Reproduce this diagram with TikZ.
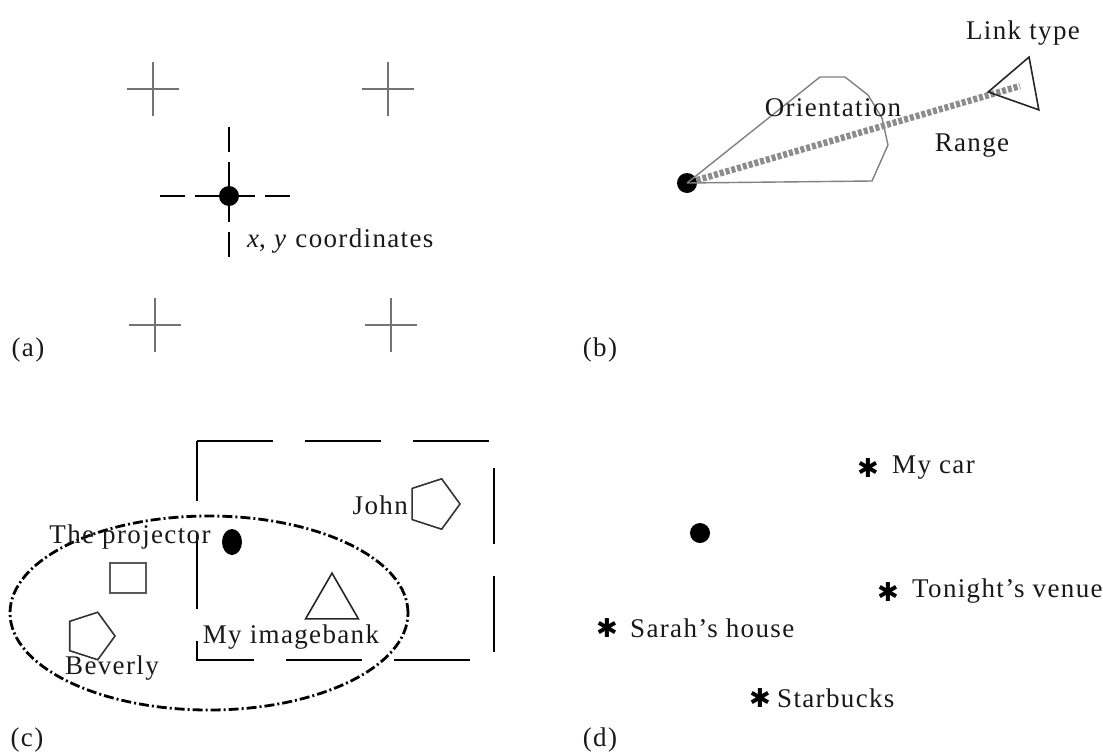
\documentclass[tikz,border=0pt]{standalone}
\usepackage{fontspec}
\setmainfont{Liberation Serif}[LetterSpace=5]
\newfontfamily\symfont{DejaVu Sans}
\usetikzlibrary{shapes.geometric}
\begin{document}
\begin{tikzpicture}[x=1pt,y=-1pt,
  lbl/.style={font=\fontsize{27}{32}\selectfont, inner sep=0pt, text=black!90},
  crossline/.style={draw=black!55, line width=1.8pt},
  dashcross/.style={draw=black, line width=2.2pt, dash pattern=on 25pt off 10pt},
  bigdot/.style={circle, fill=black, inner sep=0pt, minimum size=20pt},
  pent/.style={regular polygon, regular polygon sides=5, draw=black!80, line width=1.6pt, inner sep=0pt, rotate=-90},
  tri/.style={regular polygon, regular polygon sides=3, draw=black!85, line width=1.6pt, inner sep=0pt},
  star/.style={font=\symfont\fontsize{26}{28}\selectfont, inner sep=0pt},
]
\useasboundingbox (0,0) rectangle (1103,755);

% ---------- (a)
\foreach \cx/\cy in {153/89, 388/89, 155/325, 391/325}{
  \draw[crossline] (\cx-26,\cy) -- (\cx+26,\cy) (\cx,\cy-27) -- (\cx,\cy+27);
}
\coordinate (ah1) at (160,196); \coordinate (ah2) at (293,196);
\coordinate (av1) at (229,127); \coordinate (av2) at (229,259);
\draw[dashcross] (ah1) -- (ah2);
\draw[dashcross] (av1) -- (av2);
\node[bigdot] (adot) at (229,196) {};
\node[lbl, anchor=west] (axy) at (247,241) {\textit{x}, \textit{y} coordinates};
\node[lbl] (alab) at (28,350) {(a)};

% ---------- (b)
\node[bigdot] (bdot) at (687,183) {};
\draw[draw=black!50, line width=1.4pt] (bdot.center) -- (820,77) -- (845,77) -- (868,95) -- (882,118) -- (888,145) -- (872,181) -- (bdot.center);
\coordinate (bend) at (1020,86);
\draw[draw=black!45, line width=6.5pt, dash pattern=on 4pt off 2pt] (bdot) -- (bend);
\node[tri, minimum size=62pt, rotate=100.5] (blink) at (1018.7,86.3) {};
\node[lbl] (borient) at (833,108) {Orientation};
\node[lbl] (brange) at (972,146) {Range};
\node[lbl] (blinkt) at (1023,33) {Link type};
\node[lbl] (blab) at (600,350) {(b)};

% ---------- (c)
\draw[line width=2pt, dash pattern=on 76pt off 32pt] (197,441) -- (494,441) -- (494,660) -- (197,660) -- cycle;
\node[ellipse, draw, line width=2.8pt, dash pattern=on 10pt off 3pt on 2pt off 3pt, minimum width=398pt, minimum height=194pt, inner sep=0pt] (cgroup) at (209,613) {};
\node[ellipse, fill=black, inner sep=0pt, minimum width=20pt, minimum height=26pt] (cdot) at (232,542) {};
\node[lbl] (cproj) at (130,537) {The projector};
\node[rectangle, draw=black!65, line width=1.8pt, minimum width=36pt, minimum height=30pt, inner sep=0pt] (csq) at (128,578) {};
\node[pent, minimum size=50pt] (cbev) at (90,636) {};
\node[lbl] (cbevt) at (112,668) {Beverly};
\node[pent, minimum size=53pt] (cjohn) at (433.5,504) {};
\node[lbl, anchor=east] (cjohnt) at (408,505) {John};
\node[tri, minimum size=61pt] (cimg) at (332,603.6) {};
\node[lbl] (cimgt) at (291,637) {My imagebank};
\node[lbl] (clab) at (27,740) {(c)};

% ---------- (d)
\node[bigdot] (ddot) at (700,533) {};
\node[star] (s1) at (868,468) {✱};
\node[lbl, anchor=west] (t1) at (892,468) {My car};
\node[star] (s2) at (888,592) {✱};
\node[lbl, anchor=west] (t2) at (912,591) {Tonight's venue};
\node[star] (s3) at (607,628) {✱};
\node[lbl, anchor=west] (t3) at (630,628) {Sarah's house};
\node[star] (s4) at (760,698) {✱};
\node[lbl, anchor=west] (t4) at (777,698) {Starbucks};
\node[lbl] (dlab) at (600,740) {(d)};
\end{tikzpicture}
\end{document}
